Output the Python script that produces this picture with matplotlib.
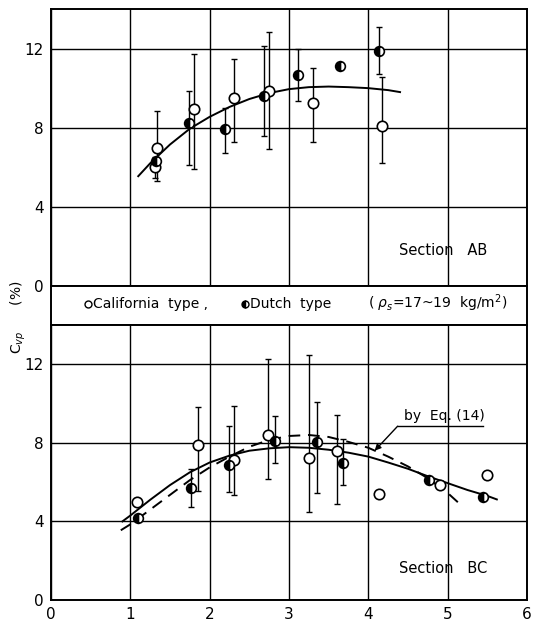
import matplotlib
matplotlib.use("Agg")
import matplotlib.pyplot as plt

plt.rcParams['font.family'] = ['DejaVu Sans']

# ---------------- data: Section AB (top) ----------------
ab_cal_x = [1.31, 1.34, 1.80, 2.31, 2.75, 3.30, 4.17]
ab_cal_y = [6.00, 7.00, 8.96, 9.50, 9.86, 9.25, 8.10]
ab_cal_lo = [5.45, 5.30, 5.92, 7.27, 6.90, 7.27, 6.20]
ab_cal_hi = [6.50, 8.85, 11.71, 11.49, 12.85, 11.00, 10.55]

ab_dut_x = [1.33, 1.74, 2.19, 2.69, 3.11, 3.64, 4.14]
ab_dut_y = [6.30, 8.24, 7.95, 9.59, 10.68, 11.10, 11.90]
ab_dut_lo = [6.30, 6.13, 6.73, 7.58, 9.35, 11.10, 10.70]
ab_dut_hi = [6.30, 9.84, 9.00, 12.14, 12.00, 11.10, 13.10]

ab_fit_x = [1.10, 1.25, 1.50, 1.75, 2.00, 2.25, 2.50, 2.75, 3.00, 3.25, 3.50, 3.75, 4.00, 4.25, 4.40]
ab_fit_y = [5.55, 6.20, 7.15, 7.95, 8.55, 9.05, 9.45, 9.75, 9.95, 10.05, 10.08, 10.05, 10.00, 9.90, 9.80]

# ---------------- data: Section BC (bottom) ----------------
bc_cal_x = [1.09, 1.85, 2.31, 2.74, 3.25, 3.60, 4.13, 4.90, 5.50]
bc_cal_y = [4.98, 7.88, 7.14, 8.40, 7.25, 7.60, 5.40, 5.85, 6.37]
bc_cal_lo = [4.98, 5.57, 5.35, 6.15, 4.50, 4.90, 5.40, 5.85, 6.37]
bc_cal_hi = [4.98, 9.84, 9.90, 12.28, 12.45, 9.43, 5.40, 5.85, 6.37]

bc_dut_x = [1.10, 1.76, 2.25, 2.83, 3.35, 3.68, 4.77, 5.44]
bc_dut_y = [4.17, 5.69, 6.87, 8.10, 8.05, 6.96, 6.10, 5.25]
bc_dut_lo = [4.17, 4.72, 5.52, 6.95, 5.45, 5.85, 6.10, 5.25]
bc_dut_hi = [4.17, 6.66, 8.86, 9.37, 10.10, 8.20, 6.10, 5.25]

bc_fit_x = [0.90, 1.00, 1.25, 1.50, 1.75, 2.00, 2.25, 2.50, 2.75, 3.00, 3.25, 3.50, 3.75,
            4.00, 4.25, 4.50, 4.75, 5.00, 5.25, 5.50, 5.62]
bc_fit_y = [4.00, 4.30, 5.10, 5.85, 6.50, 7.00, 7.35, 7.60, 7.72, 7.78, 7.75, 7.65, 7.50,
            7.30, 7.00, 6.68, 6.30, 5.95, 5.60, 5.30, 5.12]

bc_eq_x = [0.88, 1.00, 1.25, 1.50, 1.75, 2.00, 2.25, 2.50, 2.75, 3.00, 3.25, 3.50, 3.75,
           4.00, 4.25, 4.50, 4.75, 5.00, 5.15]
bc_eq_y = [3.55, 3.85, 4.60, 5.35, 6.10, 6.75, 7.30, 7.80, 8.15, 8.35, 8.40, 8.30, 8.05,
           7.75, 7.30, 6.80, 6.20, 5.45, 4.90]

x_ticks = [0, 1, 2, 3, 4, 5, 6]
y_ticks = [0, 4, 8, 12]

# ---------------- figure ----------------
fig = plt.figure(figsize=(5.35, 6.25), dpi=100)
L, W = 0.0953, 0.8897
ax1 = fig.add_axes([L, 0.5424, W, 0.4432])
axb = fig.add_axes([L, 0.480, W, 0.0624])
ax2 = fig.add_axes([L, 0.040, W, 0.440])


def style(ax, show_x):
    ax.set_xlim(0, 6)
    ax.set_ylim(0, 14)
    ax.set_xticks(x_ticks)
    ax.set_yticks(y_ticks)
    ax.grid(True, color='black', linewidth=1.0)
    ax.set_axisbelow(True)
    ax.tick_params(length=0, labelsize=11, pad=5)
    if not show_x:
        ax.tick_params(labelbottom=False)
    for s in ax.spines.values():
        s.set_linewidth(1.4)


def draw_points(ax, x, y, lo, hi, dutch):
    yerr = [[yy - l for yy, l in zip(y, lo)], [h - yy for yy, h in zip(y, hi)]]
    ax.errorbar(x, y, yerr=yerr, fmt='none', ecolor='black', elinewidth=1.0,
                capsize=2.5, capthick=1.0, zorder=3)
    if dutch:
        ax.plot(x, y, 'o', ms=7, mec='black', mfc='black', mfcalt='white',
                fillstyle='left', mew=1.2, zorder=5, linestyle='none')
    else:
        ax.plot(x, y, 'o', ms=7.5, mec='black', mfc='white', mew=1.2,
                zorder=5, linestyle='none')


style(ax1, False)
style(ax2, True)

ax1.plot(ab_fit_x, ab_fit_y, color='black', lw=1.4, zorder=4)
draw_points(ax1, ab_cal_x, ab_cal_y, ab_cal_lo, ab_cal_hi, False)
draw_points(ax1, ab_dut_x, ab_dut_y, ab_dut_lo, ab_dut_hi, True)
ax1.text(4.39, 1.8, 'Section   AB', fontsize=10.5, va='center', ha='left')

ax2.plot(bc_fit_x, bc_fit_y, color='black', lw=1.4, zorder=4)
ax2.plot(bc_eq_x, bc_eq_y, color='black', lw=1.4, dashes=(6, 4), zorder=4)
draw_points(ax2, bc_cal_x, bc_cal_y, bc_cal_lo, bc_cal_hi, False)
draw_points(ax2, bc_dut_x, bc_dut_y, bc_dut_lo, bc_dut_hi, True)
ax2.text(4.39, 1.6, 'Section   BC', fontsize=10.5, va='center', ha='left')

# annotation "by Eq. (14)"
ax2.text(4.45, 9.0, 'by  Eq. (14)', fontsize=10, va='bottom', ha='left')
ax2.plot([4.37, 5.45], [8.85, 8.85], color='black', lw=1.0)
ax2.annotate('', xy=(4.08, 7.6), xytext=(4.37, 8.85),
             arrowprops=dict(arrowstyle='-|>', color='black', lw=1.0,
                             mutation_scale=9, shrinkA=0, shrinkB=0))

# band with legend text
axb.set_xlim(0, 6)
axb.set_ylim(0, 1)
axb.set_xticks([])
axb.set_yticks([])
for s in axb.spines.values():
    s.set_linewidth(1.4)
axb.plot([0.47], [0.55], 'o', ms=5, mec='black', mfc='white', mew=1.0)
axb.text(0.53, 0.55, 'California  type ,', fontsize=10, va='center', ha='left')
axb.plot([2.45], [0.55], 'o', ms=5, mec='black', mfc='black', mfcalt='white',
         fillstyle='left', mew=1.0)
axb.text(2.51, 0.55, 'Dutch  type', fontsize=10, va='center', ha='left')
axb.text(4.0, 0.55, r'( $\rho_s$=17~19  kg/m$^2$)', fontsize=10, va='center', ha='left')

fig.text(0.035, 0.493, r'C$_{vp}$      (%)', rotation=90, fontsize=10,
         va='center', ha='center')

fig.savefig('out.png', dpi=100)
